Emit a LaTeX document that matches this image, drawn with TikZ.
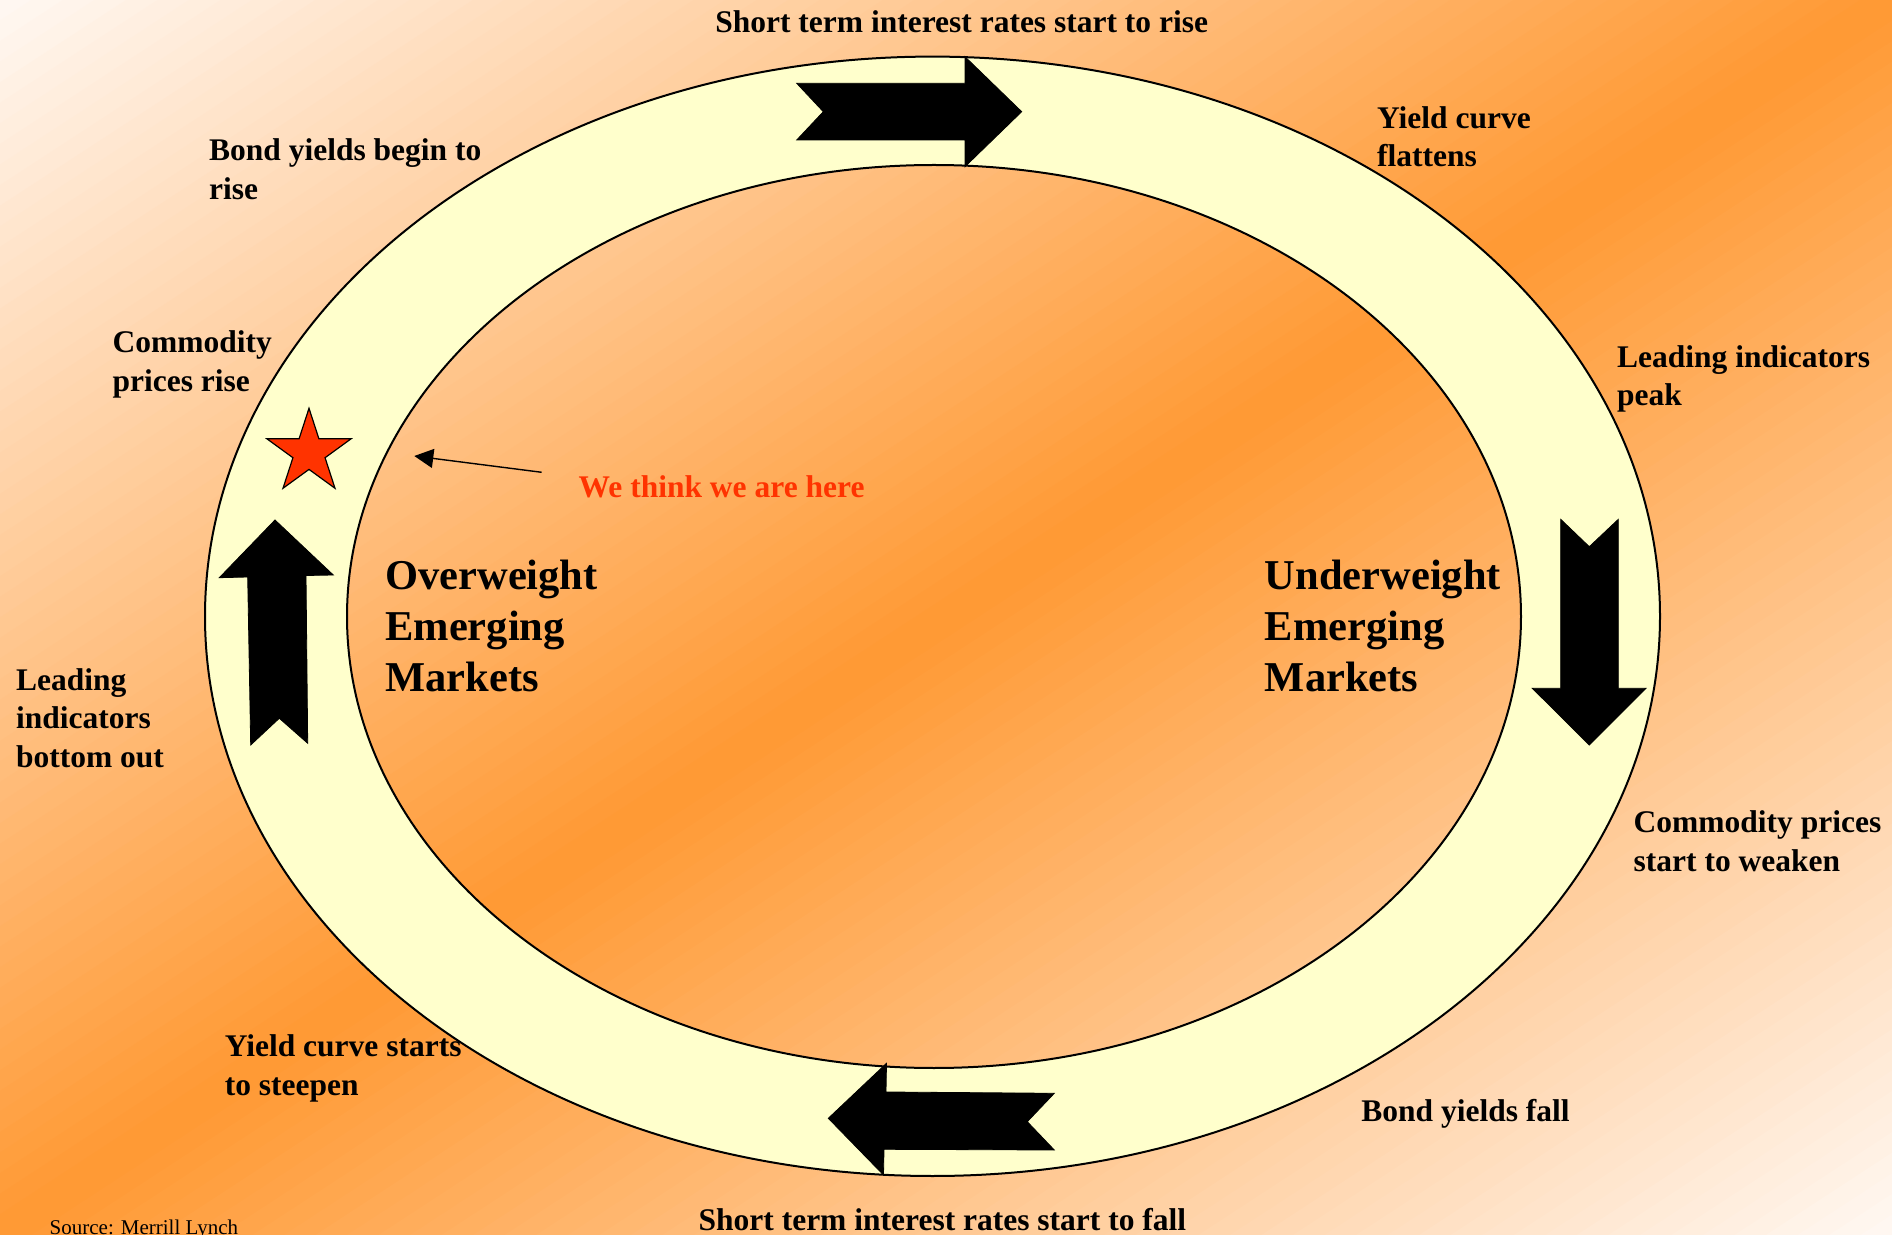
\documentclass[tikz,border=0pt]{standalone}
\usepackage{fontspec}
\setmainfont{Liberation Serif}
\usetikzlibrary{arrows.meta}
\definecolor{bgorange}{HTML}{FF9933}
\definecolor{bglight}{HTML}{FFF8F3}
\definecolor{ringfill}{HTML}{FFFFCC}
\definecolor{hotred}{HTML}{FF3300}
\tikzset{
  lbl/.style={anchor=base west, align=left, inner sep=0pt, font=\fontsize{15.75pt}{19.25pt}\selectfont\bfseries},
  lblc/.style={lbl, anchor=base, align=center},
  big/.style={anchor=base west, align=left, inner sep=0pt, font=\fontsize{21.25pt}{25.35pt}\selectfont\bfseries},
  blockarrow/.style={fill=black, draw=black, line width=0.4pt, line join=miter},
  ringline/.style={draw=black, line width=1pt},
}
\begin{document}
\begin{tikzpicture}[x=0.5pt, y=-0.5pt]
\useasboundingbox (0,0) rectangle (1892,1235);

% background: diagonal gradient, light at top-left and bottom-right, orange along the other diagonal
\begin{scope}
  \clip (0,0) rectangle (1892,1235);
  \foreach \i in {0,...,119}{
    \pgfmathsetmacro{\ta}{2*\i/120}
    \pgfmathsetmacro{\tb}{2*(\i+1)/120+0.004}
    \pgfmathsetmacro{\tm}{(2*\i+1)/120}
    \pgfmathsetmacro{\p}{\tm<1 ? 100*\tm : 100*(2-\tm)}
    \fill[bgorange!\p!bglight] (\ta*1892,0) -- (\tb*1892,0) -- (0,\tb*1235) -- (0,\ta*1235) -- cycle;
  }
\end{scope}

% ring
\fill[ringfill, even odd rule] (932.5,616.3) ellipse [x radius=727.5, y radius=559.7]
                               (934,616.5) ellipse [x radius=587, y radius=451.5];
\draw[ringline] (932.5,616.3) ellipse [x radius=727.5, y radius=559.7];
\draw[ringline] (934,616.5) ellipse [x radius=587, y radius=451.5];

% block arrows
\fill[blockarrow] (796.7,83.3) -- (965,83.3) -- (965,56.7) -- (1021.7,111.7) -- (965,166.7)
  -- (965,140) -- (796.7,140) -- (823.3,111.7) -- cycle;
\fill[blockarrow] (1560.7,519.3) -- (1589.3,546.7) -- (1618.3,519.3) -- (1618.3,688.3)
  -- (1646,688.3) -- (1589.3,745) -- (1532.3,688.3) -- (1560.7,688.3) -- cycle;
\fill[blockarrow] (828.3,1118.3) -- (886.5,1063.3) -- (886,1092) -- (1054.3,1093.3)
  -- (1027.3,1121.7) -- (1054.3,1150) -- (884,1149.3) -- (883.5,1175) -- cycle;
\fill[blockarrow] (275,520) -- (333.3,575) -- (306,575.5) -- (307.7,743.3) -- (279.3,718.3)
  -- (250.7,745) -- (247.7,577) -- (219.3,577.7) -- cycle;

% star
\filldraw[fill=hotred, draw=black, line width=0.6pt, line join=miter]
  (309,408.3) -- (299.07,438.83) -- (266.96,438.84) -- (292.93,457.72) -- (283.02,488.26)
  -- (309,469.4) -- (334.98,488.26) -- (325.07,457.72) -- (351.04,438.84) -- (318.93,438.83) -- cycle;

% labels (base anchor = baseline of the last line)
\node[lblc] (ratesrise) at (961.7,33) {Short term interest rates start to rise};
\node[lbl] (flattens) at (1376.7,167) {Yield curve\\flattens};
\node[lbl] (bondrise) at (208.7,199.5) {Bond yields begin to\\rise};
\node[lbl] (commrise) at (112.2,391.5) {Commodity\\prices rise};
\node[lbl] (leadpeak) at (1616.7,406) {Leading indicators\\peak};
\node[lbl, text=hotred] (here) at (578.3,497.5) {We think we are here};
\node[big] (over) at (384.9,691) {Overweight\\Emerging\\Markets};
\node[big] (under) at (1264.5,691) {Underweight\\Emerging\\Markets};
\node[lbl] (leadbottom) at (15.7,767) {Leading\\indicators\\bottom out};
\node[lbl] (commweak) at (1633.3,871) {Commodity prices\\start to weaken};
\node[lbl] (steepen) at (224.4,1095) {Yield curve starts\\to steepen};
\node[lbl] (bondfall) at (1361,1121) {Bond yields fall};
\node[lblc] (ratesfall) at (942.4,1230) {Short term interest rates start to fall};
\node[anchor=base west, inner sep=0pt, font=\fontsize{10.5pt}{12pt}\selectfont] (source) at (49.3,1234) {Source: Merrill Lynch};

% pointer
\coordinate (ptrtail) at (541.7,472.3);
\coordinate (ptrtip) at (414.3,456);
\draw[line width=0.7pt, -{Triangle[length=9.5pt,width=9.5pt]}] (ptrtail) -- (ptrtip);
\end{tikzpicture}
\end{document}
